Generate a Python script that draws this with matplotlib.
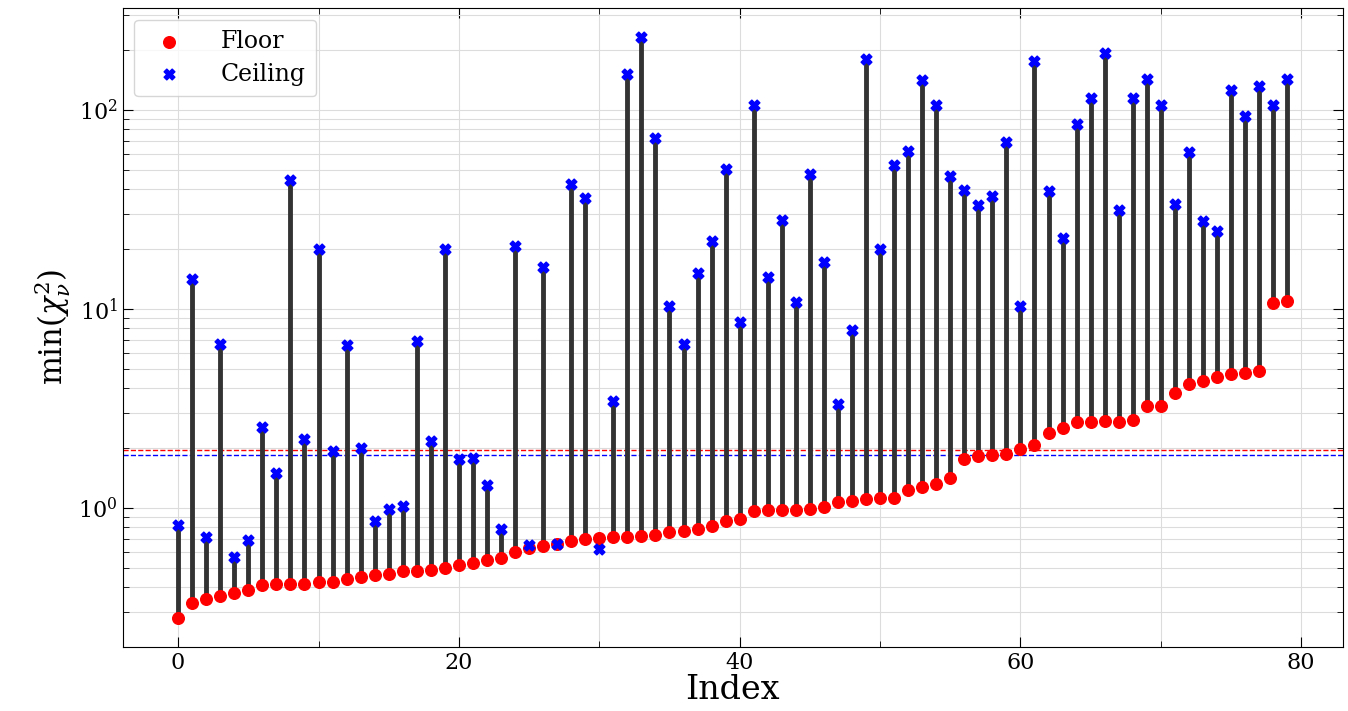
import numpy as np
import matplotlib
matplotlib.use("Agg")
from matplotlib import pyplot as plt

plt.rcParams['font.family'] = ['DejaVu Serif']
plt.rcParams['mathtext.fontset'] = 'dejavuserif'

# 各モデルの min(chi^2_nu)（floor / ceiling）
floor_vals = [0.281, 0.334, 0.35, 0.362, 0.375, 0.388, 0.411, 0.416, 0.416, 0.418,
              0.426, 0.426, 0.44, 0.451, 0.461, 0.467, 0.483, 0.484, 0.49, 0.50,
              0.518, 0.53, 0.549, 0.56, 0.60, 0.63, 0.645, 0.66, 0.684, 0.70,
              0.707, 0.715, 0.715, 0.724, 0.73, 0.758, 0.767, 0.785, 0.81, 0.86,
              0.88, 0.966, 0.977, 0.977, 0.98, 0.99, 1.01, 1.07, 1.085, 1.11,
              1.12, 1.12, 1.23, 1.27, 1.32, 1.41, 1.76, 1.82, 1.84, 1.86,
              1.98, 2.07, 2.38, 2.52, 2.70, 2.70, 2.73, 2.70, 2.76, 3.25,
              3.25, 3.77, 4.18, 4.33, 4.53, 4.69, 4.74, 4.86, 10.7, 10.9]
ceiling_vals = [0.82, 14.1, 0.72, 6.7, 0.57, 0.69, 2.55, 1.50, 44.6, 2.22,
                20.1, 1.93, 6.6, 2.0, 0.86, 0.99, 1.02, 6.9, 2.17, 19.9,
                1.76, 1.78, 1.30, 0.79, 20.8, 0.65, 16.3, 0.66, 42.6, 36.2,
                0.62, 3.44, 151, 232, 72, 10.4, 6.7, 15.1, 22.0, 50.6,
                8.6, 105, 14.4, 28.1, 10.8, 47.8, 17.1, 3.32, 7.8, 180,
                20.1, 53, 62, 141, 106, 46.7, 39.7, 33.4, 37, 69,
                10.4, 176, 39, 22.8, 85, 115, 193, 31.2, 115, 143,
                105, 33.8, 61, 27.5, 24.5, 126, 93, 132, 105, 143]
# 閾値ライン
floor_thr = 1.95
ceiling_thr = 1.84

idx = np.arange(len(floor_vals))

fig, ax = plt.subplots(figsize=(13.48, 7.11), dpi=100)
fig.subplots_adjust(left=0.091, right=0.996, top=0.989, bottom=0.09)

ax.vlines(idx, floor_vals, ceiling_vals, color="#333333", lw=3.5, zorder=2)
ax.scatter(idx, floor_vals, color="red", s=70, marker="o", label="Floor", zorder=3)
ax.scatter(idx, ceiling_vals, color="blue", s=60, marker="X", label="Ceiling", zorder=4)
ax.axhline(floor_thr, color="red", ls="--", lw=1, zorder=1)
ax.axhline(ceiling_thr, color="blue", ls="--", lw=1, zorder=1)

ax.set_yscale("log")
ax.set_xticks(np.arange(0, 81, 20))
ax.set_xticks(np.arange(10, 81, 20), minor=True)
ax.tick_params(which="both", direction="in", top=True, right=True, labelsize=16)
ax.tick_params(which="major", length=7)
ax.tick_params(which="minor", length=4)
ax.grid(True, which="both", color="#dcdcdc", lw=0.8)
ax.set_axisbelow(True)

ax.set_xlabel("Index", fontsize=24, labelpad=0)
ax.set_ylabel(r"min($\chi^2_\nu$)", fontsize=22)
ax.legend(loc="upper left", fontsize=17, handletextpad=1.2, borderpad=0.45,
          labelspacing=0.4, fancybox=True, framealpha=0.8)

plt.savefig("out.png")
